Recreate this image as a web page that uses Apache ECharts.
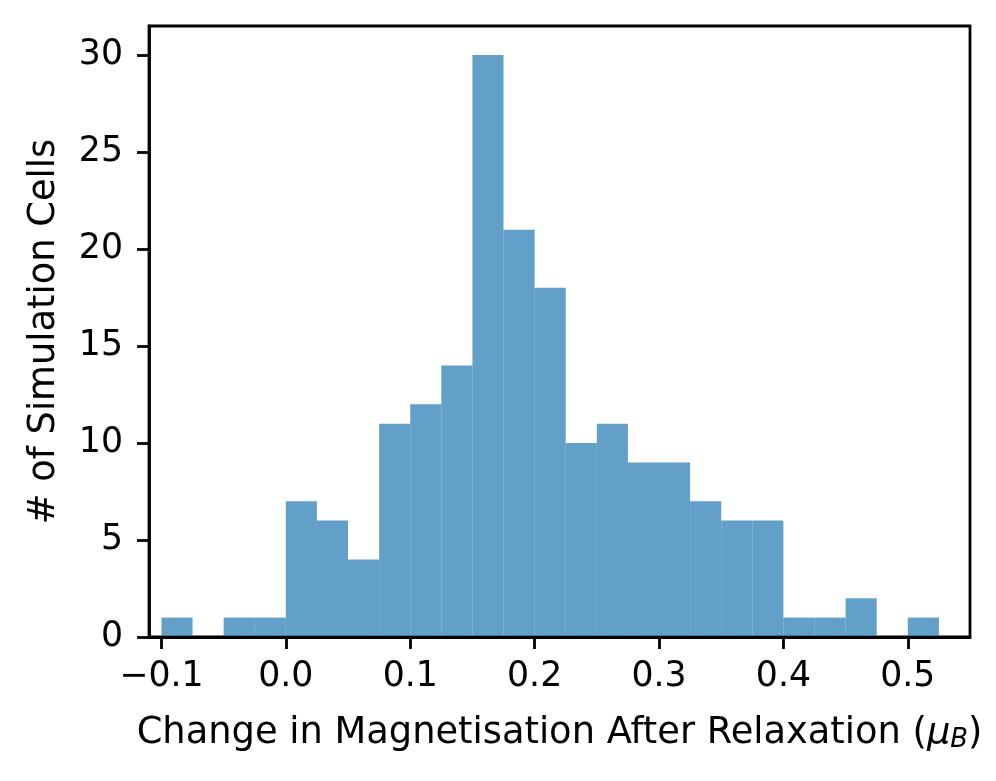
<!DOCTYPE html>
<html>
<head>
<meta charset="utf-8">
<script src="https://cdn.jsdelivr.net/npm/echarts@6/dist/echarts.min.js"></script>
<style>html,body{margin:0;padding:0;background:#fff;}#c{width:996px;height:781px;}</style>
</head>
<body>
<div id="c"></div>
<script>
// Histogram bin edges (μB) and counts per bin
var binEdges = [-0.1, -0.075, -0.05, -0.025, 0.0, 0.025, 0.05, 0.075, 0.1, 0.125, 0.15, 0.175, 0.2, 0.225, 0.25, 0.275, 0.3, 0.325, 0.35, 0.375, 0.4, 0.425, 0.45, 0.475, 0.5, 0.525];
var counts = [1, 0, 1, 1, 7, 6, 4, 11, 12, 14, 30, 21, 18, 10, 11, 9, 9, 7, 6, 6, 1, 1, 2, 0, 1];
var xTicks = [-0.1, 0.0, 0.1, 0.2, 0.3, 0.4, 0.5];
var yTicks = [0, 5, 10, 15, 20, 25, 30];
var xTitle = 'Change in Magnetisation After Relaxation';
var yTitle = '# of Simulation Cells';

var data = [];
for (var i = 0; i < counts.length; i++) {
  data.push([binEdges[i], binEdges[i + 1], counts[i]]);
}

var FONT = 'DejaVu Sans';
var FS = 34.7;
var TFS = 36.8;
var chart = echarts.init(document.getElementById('c'), null, {renderer: 'canvas', width: 996, height: 781});
chart.setOption({
  animation: false,
  backgroundColor: '#fff',
  grid: {left: 149, right: 26, top: 26, bottom: 144, show: true, borderColor: '#000', borderWidth: 2.8, backgroundColor: 'transparent'},
  xAxis: {
    type: 'value', min: -0.11, max: 0.55, z: 5,
    splitLine: {show: false},
    axisLine: {show: true, onZero: false, lineStyle: {color: '#000', width: 2.8}},
    axisTick: {show: true, length: 12, customValues: xTicks, lineStyle: {color: '#000', width: 2.8}},
    axisLabel: {customValues: xTicks, margin: 22, color: '#000', fontFamily: FONT, fontSize: FS,
      formatter: function (v) { return v.toFixed(1).replace('-', '\u2212'); }},
    name: '{t|' + xTitle + ' (}{m|\u03bc}{s|B}{t|)}',
    nameLocation: 'middle', nameGap: 76,
    nameTextStyle: {rich: {
      t: {fontFamily: FONT, fontSize: TFS, color: '#000'},
      m: {fontFamily: FONT, fontSize: TFS, fontStyle: 'italic', color: '#000'},
      s: {fontFamily: FONT, fontSize: TFS * 0.7, fontStyle: 'italic', color: '#000', padding: [14, 0, 0, 0]}
    }}
  },
  yAxis: {
    type: 'value', min: 0, max: 31.5, z: 5,
    splitLine: {show: false},
    axisLine: {show: true, onZero: false, lineStyle: {color: '#000', width: 2.8}},
    axisTick: {show: true, length: 12, customValues: yTicks, lineStyle: {color: '#000', width: 2.8}},
    axisLabel: {customValues: yTicks, margin: 26, color: '#000', fontFamily: FONT, fontSize: FS},
    name: yTitle, nameLocation: 'middle', nameGap: 86,
    nameTextStyle: {fontFamily: FONT, fontSize: TFS, color: '#000'}
  },
  series: [{
    type: 'custom',
    data: data,
    encode: {x: [0, 1], y: 2},
    z: 1,
    renderItem: function (params, api) {
      var p0 = api.coord([api.value(0), 0]);
      var p1 = api.coord([api.value(1), api.value(2)]);
      return {
        type: 'rect',
        shape: {x: p0[0], y: p1[1], width: p1[0] - p0[0], height: p0[1] - p1[1]},
        style: {fill: 'rgba(31,119,180,0.7)'}
      };
    }
  }]
});
</script>
</body>
</html>
